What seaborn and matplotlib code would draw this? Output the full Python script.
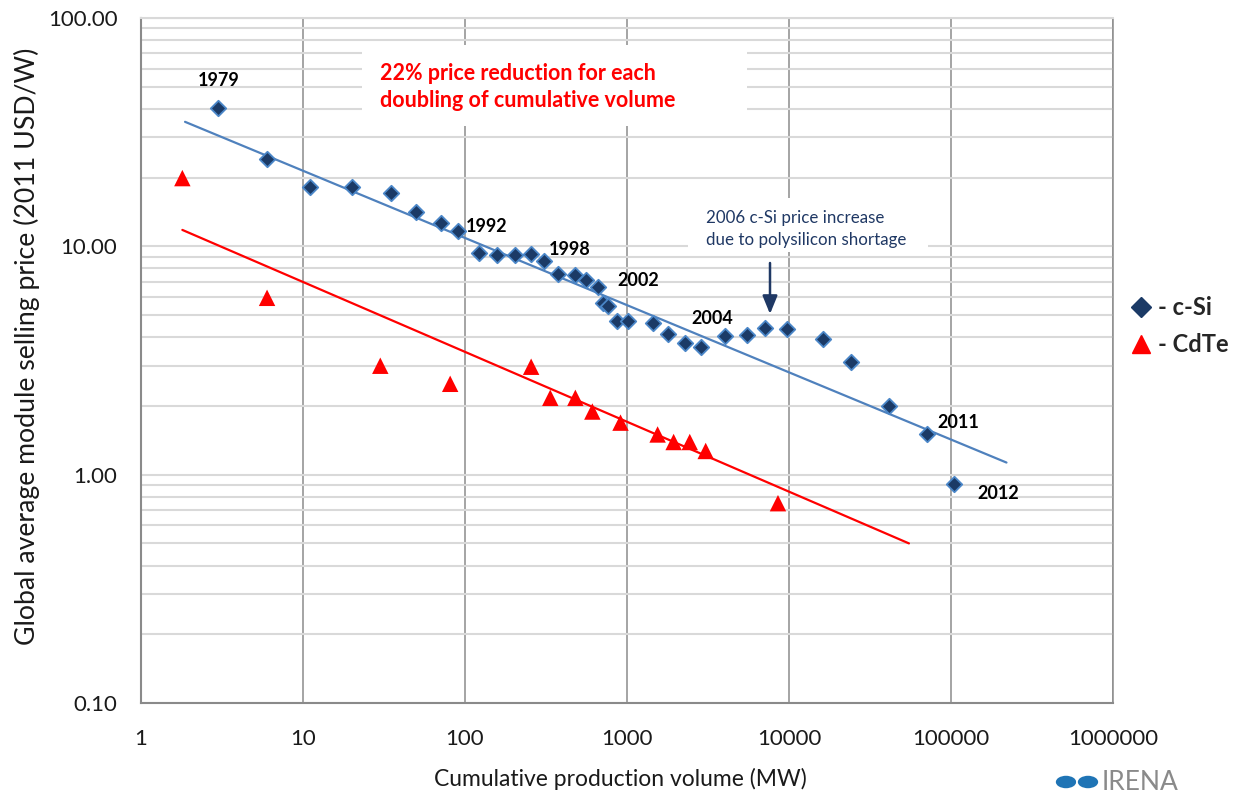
import numpy as np
import pandas as pd
import matplotlib
matplotlib.use("Agg")
import matplotlib.pyplot as plt
import matplotlib.patches as mpatches
from matplotlib.lines import Line2D
from matplotlib.ticker import FixedLocator, FuncFormatter, LogLocator, NullFormatter
import seaborn as sns

# c-Si module prices (cumulative MW, 2011 USD/W)
csi_volume = [3, 6, 11, 20, 35, 50, 71, 90, 122, 158, 204, 256, 308, 377, 480, 561,
              666, 715, 768, 873, 1020, 1450, 1800, 2280, 2850, 4030, 5500, 7130,
              9730, 16200, 24000, 41400, 71600, 104700]
csi_price = [40.4, 24.2, 18.2, 18.2, 17.1, 14.2, 12.7, 11.7, 9.36, 9.18, 9.18, 9.27,
             8.64, 7.58, 7.46, 7.13, 6.65, 5.66, 5.5, 4.72, 4.72, 4.61, 4.13, 3.79,
             3.61, 4.03, 4.10, 4.41, 4.34, 3.92, 3.10, 2.00, 1.51, 0.91]

# CdTe module prices
cdte_volume = [1.8, 6, 30, 81, 256, 336, 480, 611, 912, 1545, 1940, 2440, 3060, 8550]
cdte_price = [19.9, 5.95, 3.0, 2.5, 2.97, 2.17, 2.17, 1.89, 1.69, 1.50, 1.39, 1.39,
              1.27, 0.75]

# trend lines (end points)
csi_fit_volume = [1.87, 220000]
csi_fit_price = [35.1, 1.13]
cdte_fit_volume = [1.8, 55000]
cdte_fit_price = [11.8, 0.50]

# year labels: index into the c-Si series
year_labels = ["1979", "1992", "1998", "2002", "2004", "2011", "2012"]
year_index = [0, 7, 12, 16, 24, 32, 33]

x_ticks = [1, 10, 100, 1000, 10000, 100000, 1000000]
y_ticks = [0.1, 1, 10, 100]

csi_df = pd.DataFrame({"volume": csi_volume, "price": csi_price})
cdte_df = pd.DataFrame({"volume": cdte_volume, "price": cdte_price})

sns.set_style("white")
plt.rcParams["font.family"] = ["Lato", "DejaVu Sans"]

navy = "#1B3A66"
edge_blue = "#4A86C8"
line_blue = "#4F81BD"
red = "#FF0000"

fig = plt.figure(figsize=(12.37, 7.95), dpi=100)
ax = fig.add_axes([141/1237, 1 - 703/795, 972/1237, 685/795])

ax.set_xscale("log")
ax.set_yscale("log")
ax.set_xlim(1, 1000000)
ax.set_ylim(0.1, 100)

# grid
ax.set_axisbelow(True)
ax.xaxis.set_major_locator(FixedLocator(x_ticks))
ax.xaxis.set_minor_locator(LogLocator(base=10, subs=np.arange(2, 10)))
ax.yaxis.set_major_locator(FixedLocator(y_ticks))
ax.yaxis.set_minor_locator(LogLocator(base=10, subs=np.arange(2, 10)))
ax.xaxis.set_minor_formatter(NullFormatter())
ax.yaxis.set_minor_formatter(NullFormatter())
ax.xaxis.set_major_formatter(FuncFormatter(lambda v, p: f"{v:.0f}"))
ax.yaxis.set_major_formatter(FuncFormatter(lambda v, p: f"{v:.2f}"))
ax.grid(True, axis="x", which="major", color="#8C8C8C", linewidth=1.1)
ax.grid(True, axis="y", which="both", color="#D9D9D9", linewidth=1.5)

for s in ["left", "bottom"]:
    ax.spines[s].set_color("#8A8A8A")
    ax.spines[s].set_linewidth(1.5)
ax.spines["top"].set_color("#D9D9D9")
ax.spines["top"].set_linewidth(1.5)
ax.spines["right"].set_color("#8C8C8C")
ax.spines["right"].set_linewidth(1.1)

ax.tick_params(axis="both", which="major", length=6, width=1.1, color="#8A8A8A",
               labelsize=16, labelcolor="#1a1a1a")
ax.tick_params(axis="x", which="major", pad=13)
ax.tick_params(axis="y", which="major", pad=11)
ax.tick_params(axis="x", which="minor", length=3.5, width=1.1, color="#8A8A8A")
ax.tick_params(axis="y", which="minor", length=5, width=1.1, color="#8A8A8A")

# white boxes behind annotation texts (hide gridlines)
for (x0, y0, x1, y1) in [(362, 45, 747, 126), (688, 198, 928, 252)]:
    ax.add_patch(mpatches.Rectangle((x0/1237, 1 - y1/795), (x1 - x0)/1237, (y1 - y0)/795,
                                    transform=fig.transFigure, facecolor="white",
                                    edgecolor="none", zorder=1, clip_on=False))

# trend lines
sns.lineplot(x=csi_fit_volume, y=csi_fit_price, ax=ax, color=line_blue, linewidth=1.6, zorder=2)
sns.lineplot(x=cdte_fit_volume, y=cdte_fit_price, ax=ax, color=red, linewidth=1.6, zorder=2)

# data points
sns.scatterplot(data=csi_df, x="volume", y="price", ax=ax, marker="D", s=62,
                color=navy, edgecolor=edge_blue, linewidth=1.3, zorder=3, legend=False)
sns.scatterplot(data=cdte_df, x="volume", y="price", ax=ax, marker="^", s=140,
                color=red, edgecolor="none", linewidth=0, zorder=3, legend=False)

ax.set_xlabel("")
ax.set_ylabel("")

offsets = [(0, 27), (29, 4), (26, 11), (40, 6), (12, 29), (31, 11), (44, -9)]
for lab, i, off in zip(year_labels, year_index, offsets):
    ax.annotate(lab, (csi_volume[i], csi_price[i]), xytext=off, textcoords="offset pixels",
                ha="center", va="center", fontsize=13, fontweight="bold", color="black",
                zorder=4)

fig.text(380/1237, 1 - 87/795, "22% price reduction for each\ndoubling of cumulative volume",
         color=red, fontsize=15.5, fontweight="bold", ha="left", va="center",
         linespacing=1.35)

fig.text(706/1237, 1 - 229/795, "2006 c-Si price increase\ndue to polysilicon shortage",
         color="#1F3864", fontsize=12.2, ha="left", va="center", linespacing=1.4)

ax.annotate("", xy=(770/1237, 1 - 314/795), xytext=(770/1237, 1 - 263/795),
            xycoords="figure fraction", textcoords="figure fraction",
            arrowprops=dict(arrowstyle="-|>,head_length=1.1,head_width=0.45",
                            color="#1F3864", linewidth=1.8, shrinkA=0, shrinkB=0))

fig.text(620/1237, 1 - 779/795, "Cumulative production volume (MW)",
         fontsize=16.5, ha="center", va="center", color="#1a1a1a")
fig.text(27/1237, 1 - 346/795, "Global average module selling price (2011 USD/W)",
         fontsize=19.2, ha="center", va="center", rotation=90, color="#1a1a1a")

handles = [Line2D([], [], marker="D", linestyle="none", markersize=10.5,
                  markerfacecolor=navy, markeredgecolor=navy),
           Line2D([], [], marker="^", linestyle="none", markersize=13,
                  markerfacecolor=red, markeredgecolor=red)]
fig.legend(handles, ["- c-Si", "- CdTe"], loc="center left",
           bbox_to_anchor=(1132/1237, 1 - 326/795), frameon=False,
           prop={"size": 17, "weight": "bold"}, handlelength=0.8,
           handletextpad=0.3, labelspacing=0.6, borderaxespad=0, borderpad=0)

# small IRENA logo at the lower right corner
for cx in [1066, 1088]:
    fig.patches.append(mpatches.Circle((cx/1237, 1 - 782/795), 11/1237,
                                       transform=fig.transFigure, facecolor="#1F74B5",
                                       edgecolor="white", linewidth=1.2))
fig.text(1102/1237, 1 - 782/795, "IRENA", fontsize=19, color="#8a8a8a",
         ha="left", va="center")

fig.savefig("out.png", dpi=100)
